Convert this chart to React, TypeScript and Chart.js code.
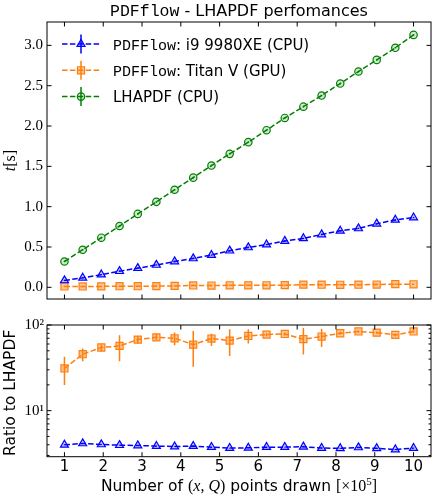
import { useEffect, useRef } from 'react';
import { Chart, registerables } from 'chart.js';
Chart.register(...registerables);

// ---- data ----
const nPoints = [1, 1.47, 1.95, 2.42, 2.89, 3.37, 3.84, 4.32, 4.79, 5.26, 5.74, 6.21, 6.68, 7.16, 7.63, 8.11, 8.58, 9.05, 9.53, 10];
const timeCpu = [0.085, 0.117, 0.157, 0.2, 0.237, 0.277, 0.32, 0.358, 0.4, 0.454, 0.494, 0.53, 0.574, 0.607, 0.655, 0.7, 0.73, 0.788, 0.836, 0.864];
const timeGpu = [0.0103, 0.0102, 0.0113, 0.0133, 0.0135, 0.0148, 0.0173, 0.023, 0.0217, 0.0252, 0.0242, 0.0252, 0.0267, 0.0328, 0.0324, 0.0315, 0.0319, 0.0346, 0.0388, 0.0373];
const timeLhapdf = [0.32, 0.466, 0.615, 0.76, 0.91, 1.06, 1.21, 1.36, 1.51, 1.655, 1.8, 1.948, 2.1, 2.24, 2.378, 2.527, 2.676, 2.82, 2.97, 3.13];
const errTimeCpu = [0.008, 0.008, 0.008, 0.008, 0.008, 0.008, 0.008, 0.008, 0.008, 0.008, 0.008, 0.008, 0.008, 0.008, 0.008, 0.008, 0.008, 0.008, 0.008, 0.008];
const errTimeGpu = [0.008, 0.008, 0.008, 0.008, 0.008, 0.008, 0.008, 0.008, 0.008, 0.008, 0.008, 0.008, 0.008, 0.008, 0.008, 0.008, 0.008, 0.008, 0.008, 0.008];
const errTimeLhapdf = [0.01, 0.01, 0.01, 0.01, 0.01, 0.01, 0.01, 0.01, 0.01, 0.01, 0.01, 0.01, 0.01, 0.01, 0.01, 0.01, 0.01, 0.01, 0.01, 0.01];

const ratioCpu = [3.99, 4.14, 4.03, 3.95, 3.92, 3.86, 3.81, 3.86, 3.75, 3.66, 3.68, 3.75, 3.75, 3.79, 3.66, 3.63, 3.72, 3.63, 3.52, 3.66];
const ratioGpu = [31.1, 45.6, 54.6, 57, 67.6, 71.8, 70, 59, 69.5, 65.8, 74.5, 77.3, 78.6, 68.3, 73.3, 80.1, 84, 81.5, 76.6, 84];
const ratioGpuHigh = [42.5, 53.2, 59.1, 76, 74.5, 78.6, 81.5, 85, 79.3, 89, 89, 80.5, 81.5, 92, 90.6, 83.5, 87, 84, 79.5, 86.5];
const ratioGpuLow = [19.9, 37.8, 49.3, 37.8, 60.9, 65.8, 58, 32.5, 57, 43.6, 60.8, 74, 75.5, 45.3, 55.5, 77, 81, 79, 73.5, 81.5];
const ratioCpuHigh = [4.03, 4.18, 4.07, 3.99, 3.96, 3.9, 3.85, 3.9, 3.79, 3.7, 3.72, 3.79, 3.79, 3.83, 3.7, 3.67, 3.76, 3.67, 3.56, 3.7];
const ratioCpuLow = [3.95, 4.1, 3.99, 3.91, 3.88, 3.82, 3.77, 3.82, 3.71, 3.62, 3.64, 3.71, 3.71, 3.75, 3.62, 3.59, 3.68, 3.59, 3.48, 3.62];

const xTicks = [1, 2, 3, 4, 5, 6, 7, 8, 9, 10];
const xTickLabels = ['1', '2', '3', '4', '5', '6', '7', '8', '9', '10'];
const topYTicks = [0, 0.5, 1, 1.5, 2, 2.5, 3];
const topYTickLabels = ['0.0', '0.5', '1.0', '1.5', '2.0', '2.5', '3.0'];
const ratioMajorTicks = [10, 100];
const ratioMajorLabels = ['10¹', '10²'];
const ratioMinorTicks = [3, 4, 5, 6, 7, 8, 9, 20, 30, 40, 50, 60, 70, 80, 90];

const legendMono = ['PDFFlow', 'PDFFlow', ''];
const legendText = [': i9 9980XE (CPU)', ': Titan V (GPU)', 'LHAPDF (CPU)'];

// ---- styles ----
const SANS = '"DejaVu Sans"';
const SERIF = '"Liberation Serif"';
const MONO = '"Liberation Mono"';

const styles = [
  { color: '#0000ff', face: 'rgba(0,0,255,0.22)', shape: 'triangle', r: 4.6 },
  { color: '#ff7f0e', face: 'rgba(255,127,14,0.45)', shape: 'rect', r: 5 },
  { color: '#008000', face: 'rgba(0,128,0,0.18)', shape: 'circle', r: 3.7 },
];

type Seg = { t: string; f: string; dy?: number };
function drawRich(ctx: CanvasRenderingContext2D, segs: Seg[], x: number, y: number, align: 'left' | 'center', rot = 0) {
  ctx.save();
  ctx.translate(x, y);
  if (rot) ctx.rotate(rot);
  ctx.textBaseline = 'alphabetic';
  ctx.textAlign = 'left';
  ctx.fillStyle = '#000';
  const widths = segs.map((s) => { ctx.font = s.f; return ctx.measureText(s.t).width; });
  const total = widths.reduce((a, b) => a + b, 0);
  let cx = align === 'center' ? -total / 2 : 0;
  segs.forEach((s, i) => { ctx.font = s.f; ctx.fillText(s.t, cx, s.dy || 0); cx += widths[i]; });
  ctx.restore();
}

function marker(ctx: CanvasRenderingContext2D, shape: string, x: number, y: number, r: number, face: string, edge: string) {
  ctx.beginPath();
  if (shape === 'triangle') {
    for (let k = 0; k < 3; k++) {
      const a = (k * 2 * Math.PI) / 3;
      const px = x + Math.sin(a) * r, py = y - Math.cos(a) * r;
      if (k === 0) ctx.moveTo(px, py); else ctx.lineTo(px, py);
    }
    ctx.closePath();
  } else if (shape === 'rect') {
    const s = r * Math.SQRT1_2;
    ctx.rect(x - s, y - s, 2 * s, 2 * s);
  } else {
    ctx.arc(x, y, r, 0, Math.PI * 2);
  }
  ctx.fillStyle = face; ctx.fill();
  ctx.strokeStyle = edge; ctx.lineWidth = 1.2; ctx.stroke();
}

function makeDataset(vals: number[], i: number, lo: number[], hi: number[]) {
  const s = styles[i];
  return {
    data: nPoints.map((x, k) => ({ x, y: vals[k] })),
    errLo: lo, errHi: hi,
    showLine: true,
    borderColor: s.color,
    borderWidth: 1.5,
    borderDash: [5.5, 2.4],
    backgroundColor: s.face,
    pointStyle: s.shape,
    pointRadius: s.r,
    pointBackgroundColor: s.face,
    pointBorderColor: s.color,
    pointBorderWidth: 1.2,
    fill: false,
    tension: 0,
  };
}

const errorBarPlugin = {
  id: 'errbars',
  beforeDatasetsDraw(chart: any) {
    const { ctx, scales } = chart;
    chart.data.datasets.forEach((ds: any, i: number) => {
      if (!ds.errLo) return;
      ctx.save();
      ctx.strokeStyle = ds.borderColor;
      ctx.lineWidth = 1.5;
      ctx.beginPath();
      ds.data.forEach((p: any, k: number) => {
        const px = scales.x.getPixelForValue(p.x);
        ctx.moveTo(px, scales.y.getPixelForValue(ds.errLo[k]));
        ctx.lineTo(px, scales.y.getPixelForValue(ds.errHi[k]));
      });
      ctx.stroke();
      ctx.restore();
    });
  },
};

function makeFramePlugin(yMajor: number[], yMinor: number[]) {
  return {
    id: 'frame',
    afterDraw(chart: any) {
      const { ctx, chartArea: a, scales } = chart;
      ctx.save();
      ctx.strokeStyle = '#000';
      ctx.lineWidth = 1;
      ctx.strokeRect(a.left, a.top, a.right - a.left, a.bottom - a.top);
      ctx.beginPath();
      const L = 4.5, Lm = 2.5;
      xTicks.forEach((v) => {
        const px = scales.x.getPixelForValue(v);
        ctx.moveTo(px, a.bottom); ctx.lineTo(px, a.bottom - L);
        ctx.moveTo(px, a.top); ctx.lineTo(px, a.top + L);
      });
      yMajor.forEach((v) => {
        const py = scales.y.getPixelForValue(v);
        ctx.moveTo(a.left, py); ctx.lineTo(a.left + L, py);
        ctx.moveTo(a.right, py); ctx.lineTo(a.right - L, py);
      });
      yMinor.forEach((v) => {
        const py = scales.y.getPixelForValue(v);
        ctx.moveTo(a.left, py); ctx.lineTo(a.left + Lm, py);
        ctx.moveTo(a.right, py); ctx.lineTo(a.right - Lm, py);
      });
      ctx.stroke();
      ctx.restore();
    },
  };
}

const topTextPlugin = {
  id: 'toptext',
  afterDraw(chart: any) {
    const { ctx, chartArea: a } = chart;
    const cx = (a.left + a.right) / 2;
    drawRich(ctx, [
      { t: 'PDFflow', f: `16.5px ${MONO}` },
      { t: ' - LHAPDF perfomances', f: `16px ${SANS}` },
    ], cx, 15.5, 'center');
    // y label t[s]
    drawRich(ctx, [
      { t: 't', f: `italic 16px ${SERIF}` },
      { t: '[s]', f: `16px ${SERIF}` },
    ], 15, (a.top + a.bottom) / 2, 'center', -Math.PI / 2);
    // legend
    legendText.forEach((txt, i) => {
      const s = styles[i];
      const cy = 44 + i * 26.3;
      ctx.save();
      ctx.strokeStyle = s.color;
      ctx.lineWidth = 1.5;
      ctx.setLineDash([5.5, 2.4]);
      ctx.beginPath(); ctx.moveTo(62, cy); ctx.lineTo(100, cy); ctx.stroke();
      ctx.setLineDash([]);
      ctx.beginPath(); ctx.moveTo(81, cy - 9.5); ctx.lineTo(81, cy + 9.5); ctx.stroke();
      marker(ctx, s.shape, 81, cy, s.r, s.face, s.color);
      ctx.restore();
      const segs: Seg[] = [];
      if (legendMono[i]) segs.push({ t: legendMono[i], f: `15px ${MONO}` });
      segs.push({ t: txt, f: `15px ${SANS}` });
      drawRich(ctx, segs, 113, cy + 5.5, 'left');
    });
  },
};

const botTextPlugin = {
  id: 'bottext',
  afterDraw(chart: any) {
    const { ctx, chartArea: a } = chart;
    drawRich(ctx, [{ t: 'Ratio to LHAPDF', f: `15.5px ${SANS}` }], 15, (a.top + a.bottom) / 2 + 2, 'center', -Math.PI / 2);
    drawRich(ctx, [
      { t: 'Number of ', f: `15.5px ${SANS}` },
      { t: '(', f: `16px ${SERIF}` },
      { t: 'x', f: `italic 16px ${SERIF}` },
      { t: ', ', f: `16px ${SERIF}` },
      { t: 'Q', f: `italic 16px ${SERIF}` },
      { t: ')', f: `16px ${SERIF}` },
      { t: ' points drawn ', f: `15.5px ${SANS}` },
      { t: '[×10', f: `16px ${SERIF}` },
      { t: '5', f: `11px ${SERIF}`, dy: -6.5 },
      { t: ']', f: `16px ${SERIF}` },
    ], (a.left + a.right) / 2, 179, 'center');
  },
};

function topConfig(): any {
  return {
    type: 'scatter',
    data: {
      datasets: [
        makeDataset(timeCpu, 0, timeCpu.map((v, k) => v - errTimeCpu[k]), timeCpu.map((v, k) => v + errTimeCpu[k])),
        makeDataset(timeGpu, 1, timeGpu.map((v, k) => v - errTimeGpu[k]), timeGpu.map((v, k) => v + errTimeGpu[k])),
        makeDataset(timeLhapdf, 2, timeLhapdf.map((v, k) => v - errTimeLhapdf[k]), timeLhapdf.map((v, k) => v + errTimeLhapdf[k])),
      ],
    },
    options: {
      animation: false,
      responsive: true,
      maintainAspectRatio: false,
      events: [],
      layout: { autoPadding: false, padding: { left: 0, right: 3, top: 22, bottom: 5.3 } },
      plugins: { legend: { display: false }, title: { display: false }, tooltip: { enabled: false } },
      scales: {
        x: { type: 'linear', min: 0.55, max: 10.45, display: false },
        y: {
          type: 'linear', min: -0.145, max: 3.29,
          grid: { display: false, drawTicks: false },
          border: { display: false },
          afterFit: (s: any) => { s.width = 47; },
          afterBuildTicks: (s: any) => { s.ticks = topYTicks.map((v) => ({ value: v })); },
          ticks: {
            color: '#000', padding: 4,
            font: { family: 'Liberation Serif', size: 15 },
            callback: (v: number) => topYTickLabels[topYTicks.indexOf(v)] ?? '',
          },
        },
      },
    },
    plugins: [errorBarPlugin, makeFramePlugin(topYTicks, []), topTextPlugin],
  };
}

function botConfig(): any {
  return {
    type: 'scatter',
    data: {
      datasets: [
        makeDataset(ratioCpu, 0, ratioCpuLow, ratioCpuHigh),
        makeDataset(ratioGpu, 1, ratioGpuLow, ratioGpuHigh),
      ],
    },
    options: {
      animation: false,
      responsive: true,
      maintainAspectRatio: false,
      events: [],
      layout: { autoPadding: false, padding: { left: 0, right: 3, top: 13, bottom: 0 } },
      plugins: { legend: { display: false }, title: { display: false }, tooltip: { enabled: false } },
      scales: {
        x: {
          type: 'linear', min: 0.55, max: 10.45,
          grid: { display: false, drawTicks: false },
          border: { display: false },
          afterFit: (s: any) => { s.height = 43.3; },
          afterBuildTicks: (s: any) => { s.ticks = xTicks.map((v) => ({ value: v })); },
          ticks: {
            color: '#000', padding: 1, autoSkip: false, maxRotation: 0,
            font: { family: 'DejaVu Sans', size: 15 },
            callback: (v: number) => xTickLabels[xTicks.indexOf(v)] ?? '',
          },
        },
        y: {
          type: 'logarithmic', min: 2.9, max: 100,
          grid: { display: false, drawTicks: false },
          border: { display: false },
          afterFit: (s: any) => { s.width = 47; },
          afterBuildTicks: (s: any) => { s.ticks = ratioMajorTicks.map((v) => ({ value: v })); },
          ticks: {
            color: '#000', padding: 3,
            font: { family: 'Liberation Serif', size: 15 },
            callback: (v: number) => ratioMajorLabels[ratioMajorTicks.indexOf(v)] ?? '',
          },
        },
      },
    },
    plugins: [errorBarPlugin, makeFramePlugin(ratioMajorTicks, ratioMinorTicks), botTextPlugin],
  };
}

export default function App() {
  const topRef = useRef<HTMLCanvasElement>(null);
  const botRef = useRef<HTMLCanvasElement>(null);
  useEffect(() => {
    const c1 = new Chart(topRef.current as HTMLCanvasElement, topConfig());
    const c2 = new Chart(botRef.current as HTMLCanvasElement, botConfig());
    return () => { c1.destroy(); c2.destroy(); };
  }, []);
  return (
    <div style={{ position: 'absolute', left: 0, top: 0, width: 434, height: 500, background: '#fff' }}>
      <div style={{ position: 'absolute', left: 0, top: 0, width: 434, height: 312 }}>
        <canvas ref={topRef} />
      </div>
      <div style={{ position: 'absolute', left: 0, top: 312, width: 434, height: 188 }}>
        <canvas ref={botRef} />
      </div>
    </div>
  );
}
